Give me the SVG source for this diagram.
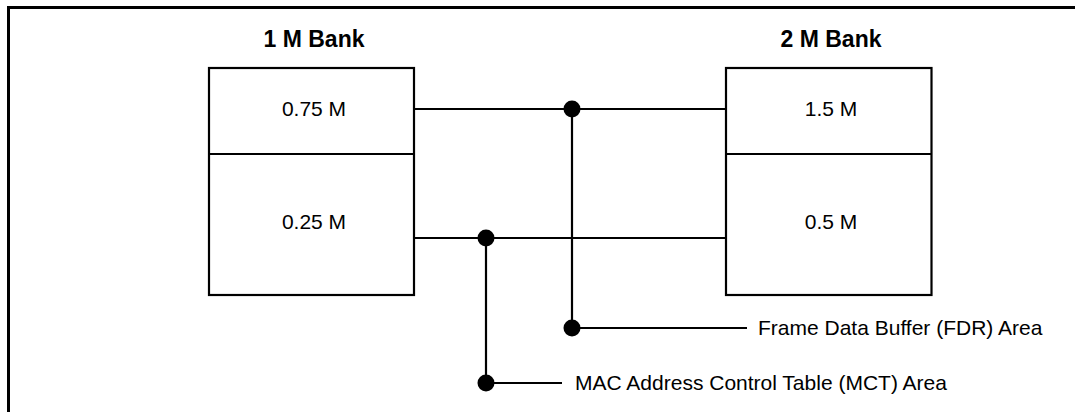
<svg xmlns="http://www.w3.org/2000/svg" width="1075" height="412" viewBox="0 0 1075 412">
<style>
.box{fill:#fff;stroke:#000;stroke-width:2.2}
.ln{stroke:#000;stroke-width:2.2;fill:none}
.dot{fill:#000}
.lbl{font-family:"Liberation Sans",Arial,sans-serif;font-size:21px;fill:#000}
.ttl{font-family:"Liberation Sans",Arial,sans-serif;font-size:23px;font-weight:bold;fill:#000}
</style>
<rect width="1075" height="412" fill="#fff"/>
<g id="frame"><path d="M8.5,412 V7.5 H1075" fill="none" stroke="#000" stroke-width="3"/></g>
<g id="bank1">
<text class="ttl" x="314" y="47" text-anchor="middle">1 M Bank</text>
<rect class="box" x="209" y="68" width="205" height="227"/>
<line class="ln" x1="209" y1="154" x2="414" y2="154"/>
<text class="lbl" x="314" y="115.5" text-anchor="middle">0.75 M</text>
<text class="lbl" x="314" y="229" text-anchor="middle">0.25 M</text>
</g>
<g id="bank2">
<text class="ttl" x="831" y="47" text-anchor="middle">2 M Bank</text>
<rect class="box" x="726" y="68" width="205.5" height="227"/>
<line class="ln" x1="726" y1="154" x2="931.5" y2="154"/>
<text class="lbl" x="831" y="115.5" text-anchor="middle">1.5 M</text>
<text class="lbl" x="831" y="229" text-anchor="middle">0.5 M</text>
</g>
<g id="connectors">
<line class="ln" x1="414" y1="109" x2="726" y2="109"/>
<line class="ln" x1="414" y1="238" x2="726" y2="238"/>
<polyline class="ln" points="572,109 572,328 747,328"/>
<polyline class="ln" points="486,238 486,383 562,383"/>
<circle class="dot" cx="572" cy="109" r="8.5"/>
<circle class="dot" cx="486" cy="238" r="8.5"/>
<circle class="dot" cx="572" cy="328" r="8.5"/>
<circle class="dot" cx="486" cy="383" r="8.5"/>
</g>
<g id="fdr-label"><text class="lbl" x="758" y="335">Frame Data Buffer (FDR) Area</text></g>
<g id="mct-label"><text class="lbl" x="575" y="390">MAC Address Control Table (MCT) Area</text></g>
</svg>
